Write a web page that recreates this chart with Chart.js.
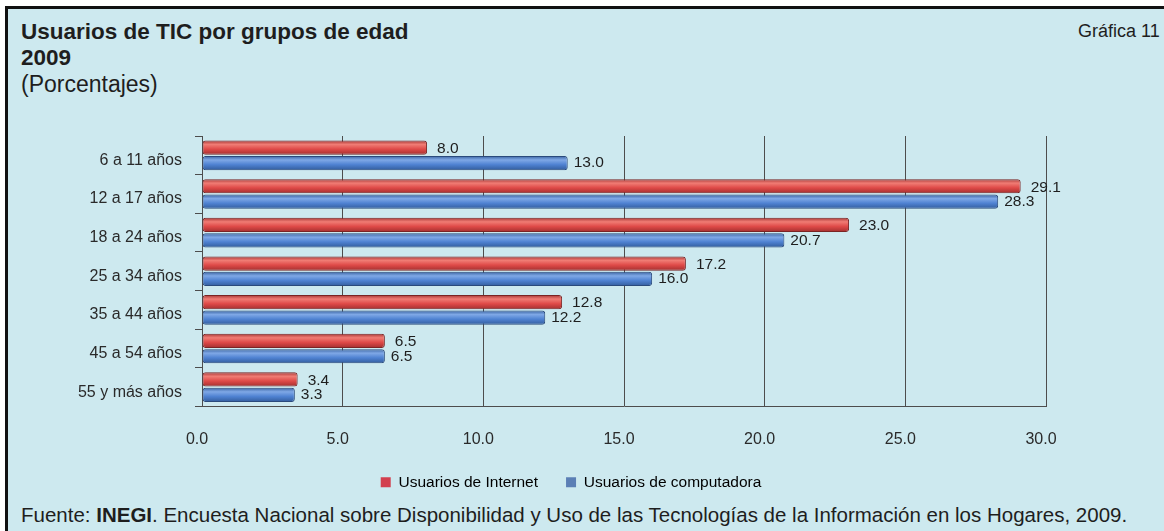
<!DOCTYPE html>
<html>
<head>
<meta charset="utf-8">
<script src="https://cdn.jsdelivr.net/npm/chart.js@4"></script>
<style>
  html, body { margin: 0; padding: 0; background: #fff; }
  body { width: 1164px; height: 531px; overflow: hidden; position: relative; font-family: "Liberation Sans", Arial, sans-serif; color: #1e1e1e; }
  #frame { position: absolute; left: 5px; top: 6px; right: 0; bottom: 0; background: #cde9ef; border-left: 3px solid #111; border-top: 3px solid #111; }
  .title { position: absolute; left: 21px; font-weight: bold; font-size: 22.5px; line-height: 26px; }
  #t1 { top: 19px; }
  #t2 { top: 45px; }
  #sub { position: absolute; left: 21px; top: 71px; font-size: 23px; }
  #num { position: absolute; left: 1078px; top: 21px; font-size: 18px; }
  #chartBox { position: absolute; left: 8px; top: 110px; width: 1140px; height: 392px; }
  #foot { position: absolute; left: 21px; top: 503px; font-size: 20.5px; white-space: nowrap; }
</style>
</head>
<body>
<div id="frame"></div>
<div class="title" id="t1">Usuarios de TIC por grupos de edad</div>
<div class="title" id="t2">2009</div>
<div id="sub">(Porcentajes)</div>
<div id="num">Gráfica 11</div>
<div id="chartBox"><canvas id="chart"></canvas></div>
<div id="foot">Fuente: <b>INEGI</b>. Encuesta Nacional sobre Disponibilidad y Uso de las Tecnologías de la Información en los Hogares, 2009.</div>
<script>
const categories = ["6 a 11 años", "12 a 17 años", "18 a 24 años", "25 a 34 años", "35 a 44 años", "45 a 54 años", "55 y más años"];
const seriesNames = ["Usuarios de Internet", "Usuarios de computadora"];
const internet = [8.0, 29.1, 23.0, 17.2, 12.8, 6.5, 3.4];
const computadora = [13.0, 28.3, 20.7, 16.0, 12.2, 6.5, 3.3];
const xTicks = [0, 5, 10, 15, 20, 25, 30];

const baseColors = ["#df4a48", "#4f82d2"];
const lightColors = ["#f07c74", "#7fa8e6"];
const darkColors = ["#9c2c2c", "#2f5896"];

// bar fill with a light band to look like the rounded bars of the original
function barFill(c) {
    const chart = c.chart;
    const i = c.datasetIndex;
    const y = chart.scales.y;
    if (!y || c.dataIndex === undefined) return baseColors[i];
    const band = (y.bottom - y.top) / categories.length;
    const barH = band * 0.8 / 2;
    const top = y.getPixelForValue(c.dataIndex) - band * 0.4 + i * barH;
    const g = chart.ctx.createLinearGradient(0, top, 0, top + barH);
    g.addColorStop(0, darkColors[i]);
    g.addColorStop(0.3, lightColors[i]);
    g.addColorStop(0.6, baseColors[i]);
    g.addColorStop(1, darkColors[i]);
    return g;
}

// value labels at the end of each bar
const valueLabels = {
    id: "valueLabels",
    afterDatasetsDraw(chart) {
        const ctx = chart.ctx;
        ctx.save();
        ctx.font = "15.5px 'Liberation Sans', Arial, sans-serif";
        ctx.fillStyle = "#1e1e1e";
        ctx.textBaseline = "middle";
        chart.data.datasets.forEach((ds, di) => {
            chart.getDatasetMeta(di).data.forEach((bar, i) => {
                ctx.fillText(ds.data[i].toFixed(1), bar.x + (di === 0 ? 10 : 6), bar.y + (di === 0 ? 1 : 0));
            });
        });
        ctx.restore();
    }
};

// the legend in the original sits a bit right of the canvas centre
const legendShift = {
    id: "legendShift",
    afterLayout(chart) {
        chart.legend.left += 44;
        chart.legend.right += 44;
    }
};

new Chart(document.getElementById("chart"), {
    type: "bar",
    data: {
        labels: categories,
        datasets: [
            {
                label: seriesNames[0],
                data: internet,
                backgroundColor: barFill,
                borderColor: "#7a2424",
                borderWidth: 1,
                borderRadius: 3,
                borderSkipped: false,
            },
            {
                label: seriesNames[1],
                data: computadora,
                backgroundColor: barFill,
                borderColor: "#2a4a7c",
                borderWidth: 1,
                borderRadius: 3,
                borderSkipped: false,
            },
        ],
    },
    options: {
        indexAxis: "y",
        responsive: true,
        maintainAspectRatio: false,
        animation: false,
        categoryPercentage: 0.8,
        barPercentage: 0.92,
        layout: { padding: { top: 26, left: 0, right: 102, bottom: 2 } },
        scales: {
            x: {
                min: 0,
                max: 30,
                afterBuildTicks(scale) {
                    scale.ticks = xTicks.map(v => ({ value: v }));
                },
                afterFit(scale) { scale.height = 40; },
                ticks: {
                    callback: v => Number(v).toFixed(1),
                    font: { size: 16, family: "'Liberation Sans', Arial, sans-serif" },
                    color: "#2a2a2a",
                    padding: 23,
                    labelOffset: -5,
                },
                grid: { color: "#4d4d4d", lineWidth: 1, drawTicks: false },
                border: { color: "#4d4d4d" },
            },
            y: {
                afterFit(scale) { scale.width = 194; },
                ticks: {
                    font: { size: 16, family: "'Liberation Sans', Arial, sans-serif" },
                    color: "#2a2a2a",
                    padding: 13,
                    labelOffset: 5,
                },
                grid: { drawOnChartArea: false, drawTicks: true, tickLength: 7, color: "#4d4d4d" },
                border: { color: "#4d4d4d" },
            },
        },
        plugins: {
            legend: {
                position: "bottom",
                labels: {
                    boxWidth: 10,
                    boxHeight: 10,
                    padding: 28,
                    color: "#2a2a2a",
                    font: { size: 15.5, family: "'Liberation Sans', Arial, sans-serif" },
                    generateLabels(chart) {
                        return chart.data.datasets.map((ds, i) => ({
                            text: ds.label,
                            fillStyle: ["#d2404f", "#5b7fb5"][i],
                            strokeStyle: ["#d2404f", "#5b7fb5"][i],
                            lineWidth: 0,
                            datasetIndex: i,
                        }));
                    },
                },
            },
            tooltip: { enabled: false },
        },
    },
    plugins: [valueLabels, legendShift],
});
</script>
</body>
</html>
